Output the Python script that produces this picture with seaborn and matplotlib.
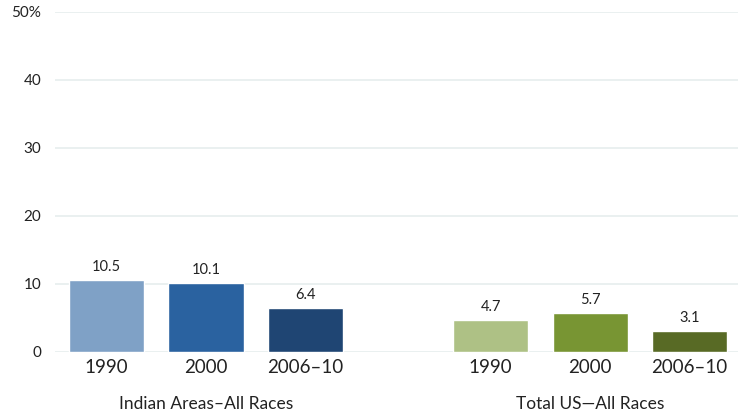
import pandas as pd
import seaborn as sns
import matplotlib.pyplot as plt

# data
groups = ["Indian Areas\u2013All Races", "Total US\u2014All Races"]
years = ["1990", "2000", "2006\u201310"]
indian_values = [10.5, 10.1, 6.4]
us_values = [4.7, 5.7, 3.1]
bar_colors = ["#7fa1c6", "#2a62a0", "#1f4573", "#aec185", "#789533", "#586a25"]

positions = [0, 1, 2, 3.86, 4.86, 5.86]
df = pd.DataFrame({
    "pos": positions,
    "value": indian_values + us_values,
    "key": [g + " " + y for g in groups for y in years],
    "year": years * 2,
})

sns.set_style("white")
plt.rcParams["font.family"] = ["Lato", "DejaVu Sans"]

fig = plt.figure(figsize=(7.38, 4.13), dpi=100)
ax = fig.add_axes([0.0745, 0.148, 0.9255, 0.823])

sns.barplot(data=df, x="pos", y="value", hue="key", palette=bar_colors,
            native_scale=True, width=0.755, saturation=1, legend=False,
            ax=ax, zorder=3)

for p, v in zip(df["pos"], df["value"]):
    ax.text(p, v + 0.9, f"{v:.1f}", ha="center", va="bottom", fontsize=10.5, color="#222222")

ax.set_ylim(0, 50)
ax.set_xlim(-0.518, 6.345)
ax.set_yticks([0, 10, 20, 30, 40, 50])
ax.set_yticklabels(["0", "10", "20", "30", "40", "50%"], fontsize=11, color="#222222")
ax.set_xticks(positions)
ax.set_xticklabels(df["year"], fontsize=13.5, color="#222222")
ax.tick_params(axis="both", length=0)
ax.tick_params(axis="x", pad=5)
ax.tick_params(axis="y", pad=10)
ax.yaxis.grid(True, color="#e6eded", linewidth=1.2, zorder=0)
ax.set_axisbelow(True)
for s in ax.spines.values():
    s.set_visible(False)
ax.set_xlabel("")
ax.set_ylabel("")

ax.text(1, -7.6, groups[0], ha="center", va="center", fontsize=12.5, color="#222222")
ax.text(4.86, -7.6, groups[1], ha="center", va="center", fontsize=12.5, color="#222222")

fig.savefig("out.png", dpi=100)
